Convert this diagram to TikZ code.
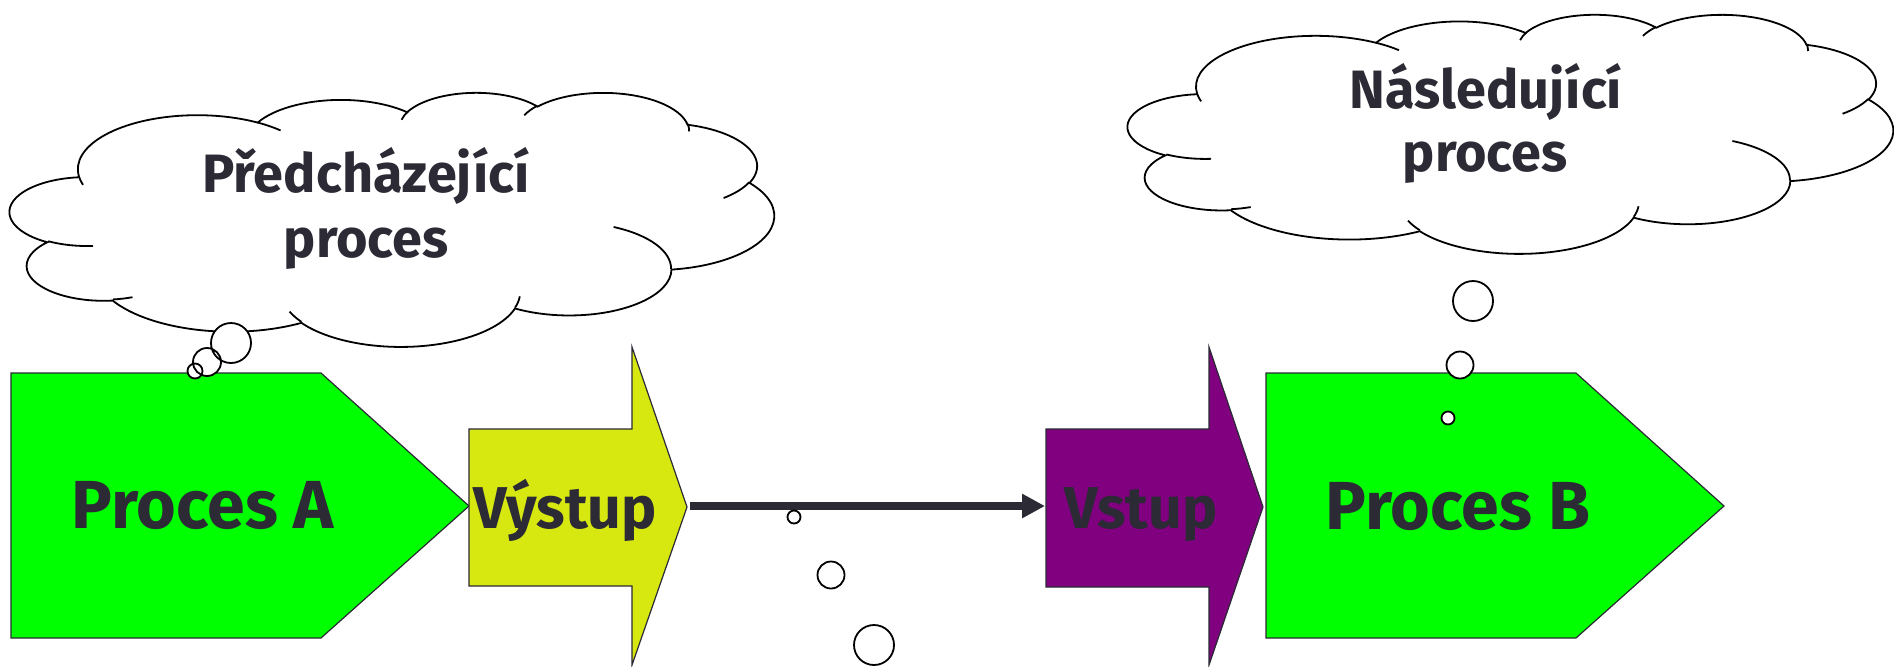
\documentclass[tikz,border=0pt]{standalone}
\usepackage{fontspec}
\setmainfont{Fira Sans}
\usetikzlibrary{arrows.meta, positioning}

\definecolor{procgreen}{RGB}{0,255,0}
\definecolor{outyellow}{RGB}{214,232,16}
\definecolor{inpurple}{RGB}{128,0,128}
\definecolor{ink}{RGB}{43,42,53}

% angles of one cloud puff (visual -> parametric)
\newcommand\puffangles[4]{%
  \pgfmathsetmacro\pst{atan2((#1)*sin(#3),(#2)*cos(#3))}%
  \pgfmathsetmacro\pen{atan2((#1)*sin((#3)+(#4)),(#2)*cos((#3)+(#4)))}%
  \pgfmathsetmacro\pdl{mod(\pen-\pst+720,360)}}
\tikzset{
  puff/.style n args={4}{/utils/exec={\puffangles{#1}{#2}{#3}{#4}},
    x radius=#1, y radius=#2, start angle=\pst, delta angle=\pdl},
  cloudline/.style={draw=black, line width=0.9pt}
}
% thought cloud in a box: left, top, width, height
\newcommand\thoughtcloud[4]{%
  \pgfmathsetmacro\cloudxu{#3/86.4}%
  \pgfmathsetmacro\cloudyu{#4/86.4}%
  \begin{scope}[shift={(#1,#2)}, x=\cloudxu pt, y=-\cloudyu pt]
    \filldraw[cloudline, fill=white] (3.900,14.370)
      arc[puff={6.753}{9.190}{-190.4875}{123.7805}]
      arc[puff={5.333}{7.267}{-144.1024}{89.9452}]
      arc[puff={4.365}{5.945}{-145.8079}{99.7230}]
      arc[puff={4.857}{6.595}{-130.9861}{117.2417}]
      arc[puff={5.333}{7.273}{-78.7089}{109.0269}]
      arc[puff={6.775}{9.220}{-46.2673}{130.2690}]
      arc[puff={5.785}{7.867}{0.6250}{114.0333}]
      arc[puff={6.752}{9.215}{22.4516}{115.1726}]
      arc[puff={7.720}{10.543}{66.2426}{75.7110}]
      arc[puff={4.360}{5.918}{-274.9421}{146.7356}]
      arc[puff={4.345}{5.945}{-246.8285}{152.5189}] -- cycle;
    \draw[cloudline]
      (4.693,26.177) arc[puff={4.345}{5.945}{86.7420}{26.4295}]
      (6.928,34.899) arc[puff={4.360}{5.918}{73.6105}{11.4475}]
      (16.478,39.090) arc[puff={6.752}{9.215}{137.6242}{14.0811}]
      (28.827,34.751) arc[puff={6.752}{9.215}{6.4533}{15.9984}]
      (34.129,22.954) arc[puff={5.785}{7.867}{-70.2924}{70.9174}]
      (41.798,15.354) arc[puff={5.333}{7.273}{30.3180}{27.7515}]
      (38.324,5.426) arc[puff={4.857}{6.595}{-13.7443}{14.8597}]
      (29.078,3.952) arc[puff={4.857}{6.595}{-149.1815}{18.1921}]
      (22.141,4.720) arc[puff={4.365}{5.945}{-163.4943}{17.6994}]
      (14.000,5.192) arc[puff={6.753}{9.190}{-66.7070}{12.3194}]
      (4.127,15.789) arc[puff={6.753}{9.190}{157.6544}{11.8582}];
  \end{scope}}

\begin{document}
\begin{tikzpicture}[x=0.5pt, y=-0.5pt, semithick,
    shape line/.style={draw=ink},
    box label/.style={font=\fontsize{34}{40}\selectfont\bfseries, text=ink, anchor=base},
    io label/.style={font=\fontsize{29.5}{35}\selectfont\bfseries, text=ink, anchor=base},
    cloud label/.style={font=\fontsize{27}{32}\selectfont\bfseries, text=ink, anchor=base},
    bubble/.style={draw=black, line width=0.9pt},
    flow/.style={draw=ink, line width=4pt, -{Triangle[length=11.5pt, width=11.5pt]}}]
    \useasboundingbox (0,0) rectangle (1894,666);

    % clouds
    \thoughtcloud{10}{92}{764}{254}
    \thoughtcloud{1128}{14}{765}{239}
    \node[cloud label] (prev1) at (366,192) {Předcházející};
    \node[cloud label] (prev2) at (366,257) {proces};
    \node[cloud label] (next1) at (1486,108) {Následující};
    \node[cloud label] (next2) at (1485,171) {proces};

    % processes
    \draw[shape line, fill=procgreen] (11,373) -- (321,373) -- (469,506) -- (321,638) -- (11,638) -- cycle;
    \node[box label] (procA) at (203,528) {Proces A};
    \draw[shape line, fill=procgreen] (1266,373) -- (1576,373) -- (1724,506) -- (1576,638) -- (1266,638) -- cycle;
    \node[box label] (procB) at (1458,529) {Proces B};

    % output / input arrows
    \draw[shape line, fill=outyellow] (469,429) -- (632,429) -- (632,347) -- (687,507)
        -- (632,665) -- (632,586) -- (469,586) -- cycle;
    \node[io label] (out) at (565,528) {Výstup};
    \draw[shape line, fill=inpurple] (1046,429) -- (1209,429) -- (1209,347) -- (1263,507)
        -- (1209,665) -- (1209,587) -- (1046,587) -- cycle;
    \node[io label] (in) at (1141,528) {Vstup};

    \coordinate (outtip) at (690,506);
    \coordinate (intail) at (1045,506);
    \draw[flow] (outtip) -- (intail);

    % bubbles
    \fill[white] (231,343) circle[radius=20] (207,362) circle[radius=14] (195,371) circle[radius=7.5]
        (794,517) circle[radius=6.5] (831,575) circle[radius=13.5] (874,645) circle[radius=20]
        (1473,301) circle[radius=20] (1460,365) circle[radius=13.5] (1448,418) circle[radius=6.5];
    \draw[bubble] (231,343) circle[radius=20] (207,362) circle[radius=14] (195,371) circle[radius=7.5]
        (794,517) circle[radius=6.5] (831,575) circle[radius=13.5] (874,645) circle[radius=20]
        (1473,301) circle[radius=20] (1460,365) circle[radius=13.5] (1448,418) circle[radius=6.5];
\end{tikzpicture}
\end{document}
